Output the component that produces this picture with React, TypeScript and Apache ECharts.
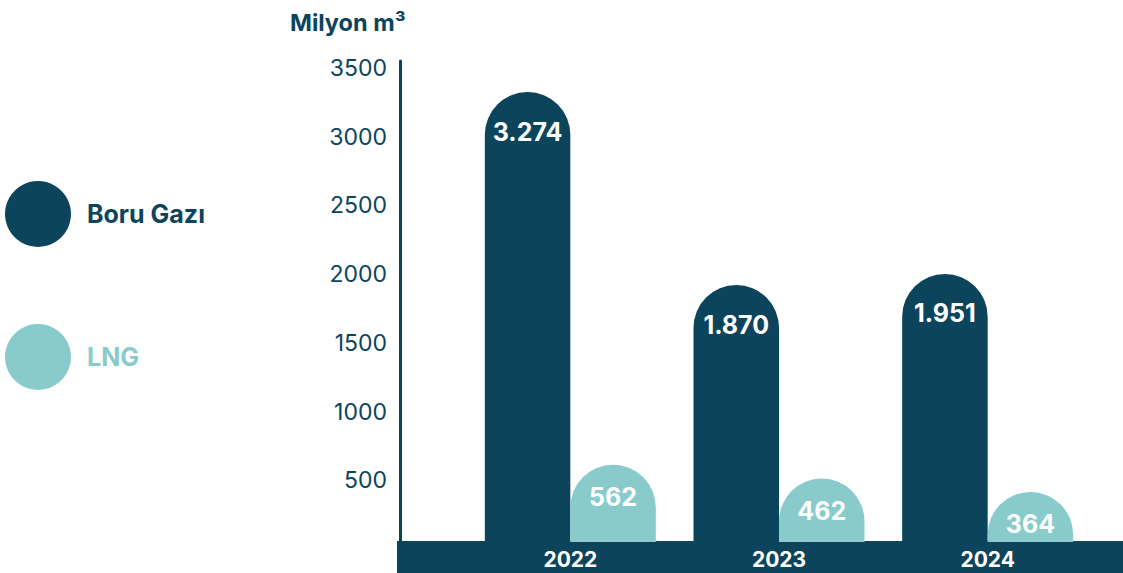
import React, { useEffect, useRef } from "react";
import * as echarts from "echarts";

const years = ["2022", "2023", "2024"];
const boruGazi = [3274, 1870, 1951];
const lng = [562, 462, 364];
const seriesNames = ["Boru Gazı", "LNG"];
const unitTitle = "Milyon m³";

const DARK = "#0c445c";
const TEAL = "#88cbca";
const FONT = "Inter, 'Noto Sans', sans-serif";

const fmt = (v: number) => {
  const s = String(Math.round(v));
  return s.replace(/\B(?=(\d{3})+(?!\d))/g, ".");
};

export default function App() {
  const ref = useRef<HTMLDivElement>(null);
  useEffect(() => {
    document.body.style.margin = "0";
    const chart = echarts.init(ref.current!, null, { renderer: "svg" });
    const barLabel = (distance: number) => ({
      show: true,
      position: "insideTop" as const,
      distance,
      color: "#ffffff",
      fontFamily: FONT,
      fontWeight: "bold" as const,
      fontSize: 25,
      formatter: (p: any) => fmt(p.value),
    });
    chart.setOption({
      animation: false,
      textStyle: { fontFamily: FONT },
      title: {
        text: unitTitle,
        left: 285,
        top: 5,
        textStyle: { color: DARK, fontSize: 23.5, fontWeight: "bold", fontFamily: FONT },
      },
      legend: {
        orient: "vertical",
        left: 0,
        top: 176,
        icon: "circle",
        itemWidth: 66,
        itemHeight: 66,
        itemGap: 77,
        selectedMode: false,
        textStyle: { fontSize: 25, fontWeight: "bold", fontFamily: FONT, padding: [0, 0, 0, 11] },
        data: [
          { name: seriesNames[0], textStyle: { color: DARK } },
          { name: seriesNames[1], textStyle: { color: TEAL } },
        ],
      },
      graphic: [
        {
          type: "rect",
          z: -10,
          shape: { x: 397, y: 541, width: 726, height: 32 },
          style: { fill: DARK },
          silent: true,
        },
      ],
      grid: { left: 466, right: 31, top: 61, bottom: 31 },
      xAxis: {
        type: "category",
        data: years,
        z: 10,
        axisLine: { show: false },
        axisTick: { show: false },
        axisLabel: {
          color: "#ffffff",
          fontSize: 21,
          fontWeight: "bold",
          fontFamily: FONT,
          margin: 7,
        },
      },
      yAxis: {
        type: "value",
        min: 0,
        max: 3500,
        interval: 500,
        offset: 66,
        splitLine: { show: false },
        axisTick: { show: false },
        axisLine: { show: true, lineStyle: { color: DARK, width: 3 } },
        axisLabel: {
          color: DARK,
          fontSize: 23,
          fontFamily: FONT,
          margin: 13,
          verticalAlign: "top",
          lineHeight: 14,
          formatter: (v: number) => (v === 0 ? "" : String(v)),
        },
      },
      series: [
        {
          name: seriesNames[0],
          type: "bar",
          data: boruGazi,
          barWidth: 85.5,
          barGap: "0%",
          itemStyle: { color: DARK, borderRadius: [43, 43, 0, 0] },
          label: barLabel(27),
        },
        {
          name: seriesNames[1],
          type: "bar",
          data: lng,
          barWidth: 85.5,
          barGap: "0%",
          itemStyle: { color: TEAL, borderRadius: [43, 43, 0, 0] },
          label: barLabel(20),
        },
      ],
    });
    return () => chart.dispose();
  }, []);
  return <div ref={ref} style={{ width: 1123, height: 573 }} />;
}
